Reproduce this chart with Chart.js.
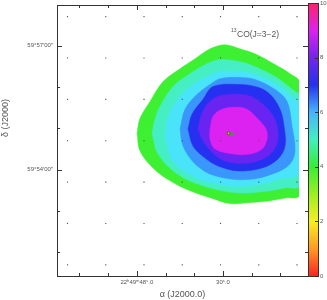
<!DOCTYPE html>
<html>
<head>
<meta charset="utf-8">
<script src="https://cdn.jsdelivr.net/npm/chart.js@4"></script>
<style>
  body { margin: 0; background: #fff; }
  #wrap { position: relative; width: 327px; height: 300px; }
  #map { position: absolute; left: 0; top: 0; }
  #cbar { position: absolute; left: 300px; top: 0; }
</style>
</head>
<body>
<div id="wrap">
  <canvas id="map" width="327" height="300"></canvas>
  <canvas id="cbar" width="27" height="300"></canvas>
</div>
<script>
/* ------------------- data ------------------ */
// x: RA seconds of 22h49m (east to the left), y: Dec arcmin past 59 deg
const RA_MIN = 12.2, RA_MAX = 64.7;
const DEC_MIN = 51.43, DEC_MAX = 57.98;
const MAP_EDGE_RA = 14.07;

const RA_MAJOR = [48, 30];
const RA_MAJOR_LABELS = ["22ʰ49ᵐ48ˢ.0", "30ˢ.0"];
const RA_MINOR = [60, 54, 48, 42, 36, 30, 24, 18];
const DEC_MAJOR = [57, 54];
const DEC_MAJOR_LABELS = ["59°57′00″", "59°54′00″"];
const DEC_MINOR = [57, 56, 55, 54, 53, 52];

const DOT_RA = [62.5, 54.5, 46.5, 38.5, 30.5, 22.5, 14.5];
const DOT_DEC = [57.7, 56.7, 55.7, 54.7, 53.7, 52.7, 51.7];

const PEAK_STAR = [[28.82, 54.88]];
const PEAK_TRI = [[28.19, 54.87]];

const LEVEL_1 = [[47.96,54.88],[47.34,55.24],[45.24,55.65],[42.52,56.13],[38.97,56.44],[35.83,56.68],
  [32.69,56.92],[29.55,57.02],[26.42,56.92],[23.28,56.80],[19.09,56.54],[15.96,56.32],[14.07,56.13],
  [14.07,53.37],[16.58,53.32],[20.14,53.25],[24.95,53.20],[28.51,53.18],[32.06,53.30],[36.88,53.49],
  [41.06,53.73],[44.62,54.04],[47.34,54.45]];
const LEVEL_2 = [[44.83,54.88],[44.20,55.22],[43.15,55.53],[40.43,56.01],[36.88,56.32],[33.32,56.56],
  [30.60,56.66],[26.42,56.61],[23.28,56.49],[19.09,56.25],[14.91,55.89],[14.07,55.82],[14.07,53.61],
  [17.00,53.56],[20.14,53.49],[27.04,53.44],[34.16,53.61],[39.60,53.90],[43.57,54.38]];
const LEVEL_3 = [[42.11,54.81],[41.69,55.17],[40.43,55.53],[37.50,55.94],[34.16,56.20],[30.60,56.37],
  [26.42,56.37],[23.28,56.30],[19.09,56.08],[14.91,55.70],[14.07,55.63],[14.07,53.92],[18.05,53.78],
  [21.60,53.66],[28.51,53.61],[35.41,53.80],[40.43,54.21]];
const LEVEL_4 = [[38.97,54.98],[37.92,55.46],[35.41,55.82],[32.69,56.06],[30.60,56.20],[26.42,56.23],
  [23.28,56.18],[19.09,55.94],[16.58,55.65],[15.54,55.05],[14.91,54.45],[15.96,54.14],[19.09,53.92],
  [24.74,53.76],[31.65,53.85],[35.83,54.14],[38.34,54.57]];
const LEVEL_5 = [[37.29,54.98],[36.46,55.34],[34.16,55.70],[32.06,56.01],[26.42,56.06],[22.65,55.99],
  [20.14,55.82],[18.05,55.46],[17.21,55.05],[17.00,54.57],[18.47,54.26],[21.81,54.04],[26.83,53.97],
  [31.02,54.09],[33.74,54.28],[36.25,54.57]];
const LEVEL_6 = [[35.20,54.98],[34.37,55.36],[32.69,55.65],[30.18,55.80],[24.95,55.80],[21.81,55.60],
  [19.72,55.34],[18.67,55.05],[18.67,54.64],[20.56,54.33],[24.74,54.16],[29.55,54.21],[32.06,54.40],
  [34.16,54.69]];
const LEVEL_7 = [[32.69,54.98],[32.06,55.29],[30.18,55.46],[27.46,55.51],[24.95,55.46],[22.65,55.22],
  [20.98,54.98],[20.77,54.74],[21.81,54.50],[24.32,54.38],[27.88,54.38],[31.65,54.50],[32.69,54.74]];

const LEVELS = [LEVEL_1, LEVEL_2, LEVEL_3, LEVEL_4, LEVEL_5, LEVEL_6, LEVEL_7];
const LEVEL_COLORS = ["#3ef032", "#46eec4", "#4ae4fa", "#3a96fa", "#2630f0", "#6a24f2", "#dc22f0"];

const CBAR_MIN = 0, CBAR_MAX = 10;
const CBAR_TICKS = [0, 2, 4, 6, 8, 10];
const CBAR_STOPS = [0, 1, 2, 3, 4, 5, 6, 7, 8, 9, 10];
const CBAR_COLORS = ["#ff2424", "#ff9a22", "#f6ee22", "#9cee22", "#36ee34", "#44eec0", "#46b4ff",
  "#2432ee", "#7424ee", "#dc22ee", "#ff2266"];

const TEXT_COLOR = "#555";
const FONT = "Liberation Sans, Arial, sans-serif";

/* ------------------- helpers ------------------ */

function toPoints(pairs, close) {
    const pts = pairs.map(p => ({ x: p[0], y: p[1] }));
    if (close) pts.push({ x: pairs[0][0], y: pairs[0][1] });
    return pts;
}

function dotGrid() {
    const pts = [];
    for (const d of DOT_DEC) for (const r of DOT_RA) pts.push({ x: r, y: d });
    return pts;
}

/* ------------------- plugins ------------------ */

// the map itself stops a little short of the right frame
const mapClip = {
    id: "mapClip",
    beforeDatasetsDraw(chart) {
        const { ctx, chartArea, scales } = chart;
        const edge = scales.x.getPixelForValue(MAP_EDGE_RA);
        ctx.save();
        ctx.beginPath();
        ctx.rect(chartArea.left, chartArea.top, edge - chartArea.left, chartArea.bottom - chartArea.top);
        ctx.clip();
    },
    afterDatasetsDraw(chart) {
        chart.ctx.restore();
    }
};

const frame = {
    id: "frame",
    afterDraw(chart) {
        const { ctx, chartArea: a, scales: { x, y } } = chart;
        ctx.save();
        ctx.strokeStyle = "#333";
        ctx.lineWidth = 1;
        ctx.strokeRect(a.left + 0.5, a.top + 0.5, a.right - a.left, a.bottom - a.top);

        ctx.beginPath();
        for (const v of RA_MINOR) {
            const px = Math.round(x.getPixelForValue(v)) + 0.5;
            const len = RA_MAJOR.includes(v) ? 5 : 3;
            ctx.moveTo(px, a.bottom); ctx.lineTo(px, a.bottom - len);
            ctx.moveTo(px, a.top); ctx.lineTo(px, a.top + len);
        }
        for (const v of DEC_MINOR) {
            const py = Math.round(y.getPixelForValue(v)) + 0.5;
            const len = DEC_MAJOR.includes(v) ? 5 : 3;
            ctx.moveTo(a.left, py); ctx.lineTo(a.left + len, py);
            ctx.moveTo(a.right, py); ctx.lineTo(a.right - len, py);
        }
        ctx.stroke();

        ctx.fillStyle = TEXT_COLOR;
        ctx.font = "6px " + FONT;
        ctx.textAlign = "center";
        ctx.textBaseline = "middle";
        RA_MAJOR.forEach((v, i) => ctx.fillText(RA_MAJOR_LABELS[i], x.getPixelForValue(v), a.bottom + 6));
        ctx.textAlign = "right";
        DEC_MAJOR.forEach((v, i) => ctx.fillText(DEC_MAJOR_LABELS[i], a.left - 4, y.getPixelForValue(v)));

        ctx.font = "9px " + FONT;
        ctx.textAlign = "center";
        ctx.fillText("α (J2000.0)", (a.left + a.right) / 2, 295);
        ctx.save();
        ctx.translate(6, 118);
        ctx.rotate(-Math.PI / 2);
        ctx.fillText("δ (J2000)", 0, 0);
        ctx.restore();

        // line label
        ctx.textAlign = "left";
        ctx.textBaseline = "alphabetic";
        ctx.font = "5px " + FONT;
        ctx.fillText("13", 231, 32);
        ctx.font = "8.5px " + FONT;
        ctx.fillText("CO(J=3−2)", 237, 37);
        ctx.restore();
    }
};

const cbarAxis = {
    id: "cbarAxis",
    afterDraw(chart) {
        const { ctx, chartArea: a, scales: { y } } = chart;
        ctx.save();
        ctx.strokeStyle = "#333";
        ctx.lineWidth = 1;
        ctx.strokeRect(a.left + 0.5, a.top + 0.5, a.right - a.left, a.bottom - a.top);
        ctx.beginPath();
        for (const v of CBAR_TICKS) {
            const py = Math.round(y.getPixelForValue(v)) + 0.5;
            ctx.moveTo(a.right, py); ctx.lineTo(a.right - 3, py);
        }
        ctx.stroke();
        ctx.fillStyle = TEXT_COLOR;
        ctx.font = "6px " + FONT;
        ctx.textAlign = "left";
        ctx.textBaseline = "middle";
        for (const v of CBAR_TICKS) ctx.fillText(String(v), a.right + 2, y.getPixelForValue(v));
        ctx.restore();
    }
};

/* ------------------- charts ------------------ */

function buildDatasets() {
    const sets = LEVELS.map((lvl, i) => ({
        data: toPoints(lvl, true),
        backgroundColor: LEVEL_COLORS[i],
        borderColor: LEVEL_COLORS[i],
        borderWidth: 0.5,
        fill: "shape",
        tension: 0.35,
        pointRadius: 0,
        order: LEVELS.length - i + 1
    }));
    sets.push({
        data: dotGrid(),
        showLine: false,
        pointStyle: "rect",
        pointRadius: 0.8,
        pointBackgroundColor: "#555",
        pointBorderWidth: 0,
        order: 1
    });
    sets.push({
        data: toPoints(PEAK_STAR, false),
        showLine: false,
        pointStyle: "rect",
        pointRadius: 1.6,
        pointBackgroundColor: "#f4e020",
        pointBorderColor: "#6a4a20",
        pointBorderWidth: 0.8,
        order: 0
    });
    sets.push({
        data: toPoints(PEAK_TRI, false),
        showLine: false,
        pointStyle: "triangle",
        pointRadius: 2,
        pointBackgroundColor: "rgba(0,0,0,0)",
        pointBorderColor: "#3aa040",
        pointBorderWidth: 1,
        order: 0
    });
    return sets;
}

new Chart(document.getElementById("map"), {
    type: "line",
    data: { datasets: buildDatasets() },
    options: {
        responsive: false,
        animation: false,
        layout: { padding: { left: 57, right: 19, top: 3, bottom: 24 } },
        scales: {
            x: { type: "linear", reverse: true, min: RA_MIN, max: RA_MAX, display: false },
            y: { type: "linear", min: DEC_MIN, max: DEC_MAX, display: false }
        },
        plugins: { legend: { display: false }, tooltip: { enabled: false } }
    },
    plugins: [mapClip, frame]
});

function cbarGradient(context) {
    const chart = context.chart;
    if (!chart.chartArea) return CBAR_COLORS[0];
    const y = chart.scales.y;
    const g = chart.ctx.createLinearGradient(0, y.getPixelForValue(CBAR_MIN), 0, y.getPixelForValue(CBAR_MAX));
    CBAR_STOPS.forEach((v, i) => g.addColorStop((v - CBAR_MIN) / (CBAR_MAX - CBAR_MIN), CBAR_COLORS[i]));
    return g;
}

new Chart(document.getElementById("cbar"), {
    type: "bar",
    data: {
        labels: [""],
        datasets: [{
            data: [CBAR_MAX],
            backgroundColor: cbarGradient,
            borderWidth: 0,
            barPercentage: 1,
            categoryPercentage: 1
        }]
    },
    options: {
        responsive: false,
        animation: false,
        layout: { padding: { left: 8, right: 9, top: 3, bottom: 24 } },
        scales: {
            x: { display: false },
            y: { display: false, min: CBAR_MIN, max: CBAR_MAX }
        },
        plugins: { legend: { display: false }, tooltip: { enabled: false } }
    },
    plugins: [cbarAxis]
});
</script>
</body>
</html>
